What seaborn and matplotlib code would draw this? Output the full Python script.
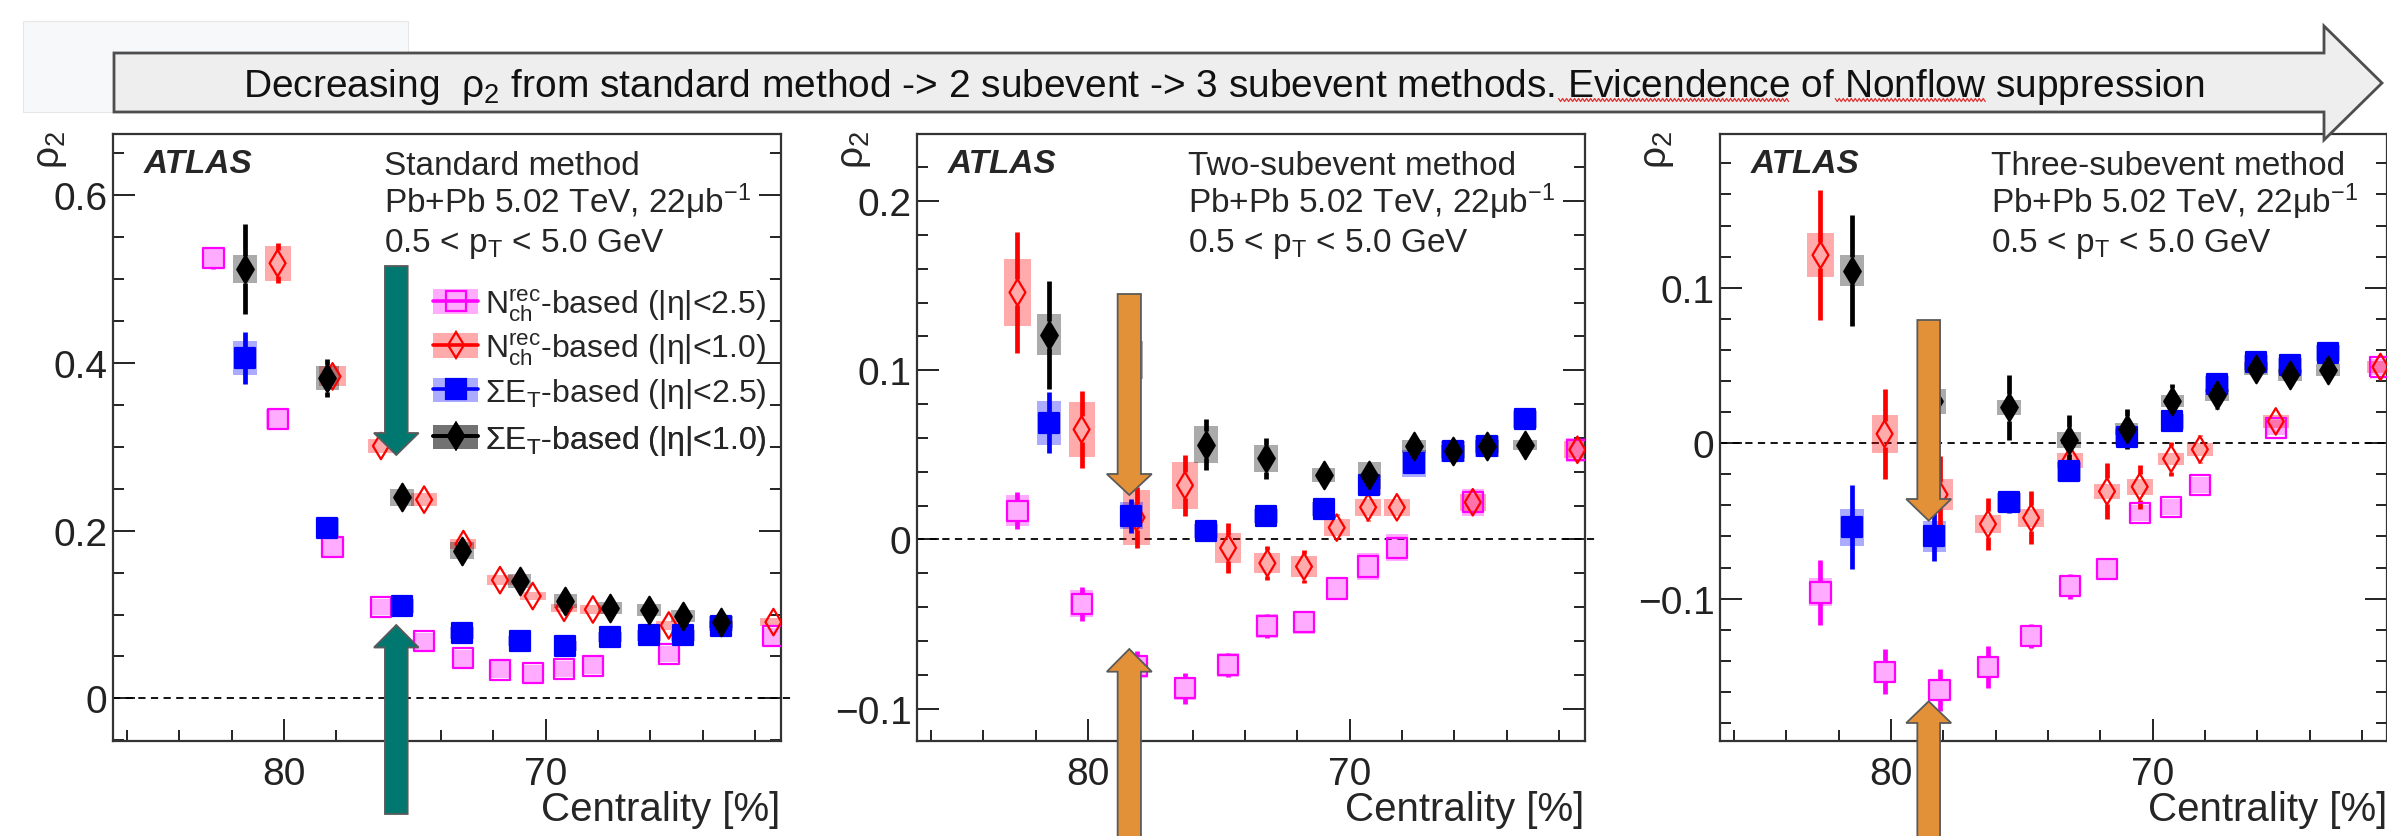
import numpy as np
import pandas as pd
import matplotlib
matplotlib.use("Agg")
import matplotlib.pyplot as plt
import seaborn as sns
from matplotlib.patches import Rectangle, Polygon
from matplotlib.lines import Line2D
from matplotlib.ticker import MultipleLocator, FuncFormatter

# ---------------- data ----------------
x_nch = [82.7, 80.25, 78.15, 76.3, 74.65, 73.15, 71.75, 70.5, 69.3, 68.2, 65.3, 61.3]
x_et = [81.5, 78.35, 75.5, 73.2, 71.0, 69.25, 67.55, 66.05, 64.75, 63.3]

# standard method
std_nch25 = [0.525, 0.333, 0.181, 0.109, 0.068, 0.048, 0.034, 0.030, 0.035, 0.039, 0.053, 0.074]
std_nch25_stat = [0.013, 0.008, 0.006, 0.005, 0.004, 0.004, 0.003, 0.003, 0.003, 0.003, 0.003, 0.003]
std_nch25_sys = [0.012, 0.012, 0.011, 0.010, 0.010, 0.010, 0.010, 0.010, 0.010, 0.010, 0.010, 0.010]
std_nch10 = [np.nan, 0.519, 0.384, 0.301, 0.237, 0.184, 0.141, 0.122, 0.108, 0.106, 0.087, 0.091]
std_nch10_stat = [np.nan, 0.024, 0.012, 0.010, 0.008, 0.007, 0.006, 0.005, 0.005, 0.005, 0.005, 0.005]
std_nch10_sys = [np.nan, 0.021, 0.012, 0.008, 0.008, 0.006, 0.006, 0.005, 0.005, 0.005, 0.005, 0.005]
std_et25 = [0.406, 0.203, 0.110, 0.078, 0.068, 0.063, 0.073, 0.075, 0.075, 0.086]
std_et25_stat = [0.031, 0.012, 0.005, 0.004, 0.004, 0.003, 0.003, 0.003, 0.003, 0.003]
std_et25_sys = [0.020, 0.012, 0.008, 0.007, 0.006, 0.006, 0.006, 0.006, 0.006, 0.006]
std_et10 = [0.512, 0.382, 0.240, 0.176, 0.140, 0.116, 0.108, 0.105, 0.098, 0.091]
std_et10_stat = [0.054, 0.023, 0.010, 0.008, 0.006, 0.005, 0.005, 0.004, 0.004, 0.004]
std_et10_sys = [0.017, 0.014, 0.010, 0.010, 0.008, 0.008, 0.007, 0.007, 0.007, 0.007]

# two-subevent method
two_nch25 = [0.017, -0.038, -0.075, -0.088, -0.074, -0.051, -0.049, -0.029, -0.016, -0.005, 0.022, 0.053]
two_nch25_stat = [0.011, 0.010, 0.009, 0.009, 0.007, 0.007, 0.005, 0.004, 0.004, 0.004, 0.004, 0.004]
two_nch25_sys = [0.009, 0.008, 0.007, 0.007, 0.007, 0.007, 0.007, 0.007, 0.008, 0.008, 0.008, 0.007]
two_nch10 = [0.146, 0.065, 0.013, 0.032, -0.005, -0.014, -0.016, 0.007, 0.019, 0.019, 0.022, 0.053]
two_nch10_stat = [0.036, 0.023, 0.018, 0.018, 0.015, 0.010, 0.010, 0.008, 0.008, 0.006, 0.006, 0.005]
two_nch10_sys = [0.020, 0.016, 0.016, 0.014, 0.009, 0.006, 0.006, 0.005, 0.005, 0.005, 0.005, 0.005]
two_et25 = [0.069, 0.014, 0.005, 0.014, 0.018, 0.032, 0.045, 0.052, 0.055, 0.071]
two_et25_stat = [0.018, 0.010, 0.006, 0.004, 0.004, 0.004, 0.004, 0.003, 0.003, 0.003]
two_et25_sys = [0.013, 0.008, 0.004, 0.004, 0.004, 0.006, 0.008, 0.006, 0.006, 0.005]
two_et10 = [0.121, 0.106, 0.056, 0.048, 0.038, 0.038, 0.055, 0.052, 0.055, 0.056]
two_et10_stat = [0.032, 0.020, 0.015, 0.012, 0.008, 0.008, 0.006, 0.005, 0.005, 0.004]
two_et10_sys = [0.012, 0.011, 0.011, 0.008, 0.004, 0.008, 0.004, 0.004, 0.004, 0.003]

# three-subevent method
thr_nch25 = [-0.096, -0.147, -0.159, -0.144, -0.124, -0.092, -0.081, -0.045, -0.041, -0.027, 0.010, 0.049]
thr_nch25_stat = [0.021, 0.0145, 0.0135, 0.0134, 0.008, 0.008, 0.006, 0.006, 0.006, 0.005, 0.005, 0.004]
thr_nch25_sys = [0.009, 0.007, 0.006, 0.006, 0.006, 0.006, 0.006, 0.005, 0.005, 0.005, 0.005, 0.005]
thr_nch10 = [0.121, 0.006, -0.033, -0.052, -0.048, -0.011, -0.031, -0.028, -0.010, -0.004, 0.014, 0.049]
thr_nch10_stat = [0.042, 0.029, 0.025, 0.017, 0.017, 0.012, 0.018, 0.014, 0.011, 0.009, 0.006, 0.005]
thr_nch10_sys = [0.014, 0.012, 0.010, 0.006, 0.006, 0.005, 0.005, 0.005, 0.004, 0.004, 0.004, 0.004]
thr_et25 = [-0.054, -0.060, -0.038, -0.018, 0.004, 0.014, 0.038, 0.052, 0.050, 0.058]
thr_et25_stat = [0.027, 0.016, 0.007, 0.005, 0.005, 0.004, 0.004, 0.003, 0.003, 0.003]
thr_et25_sys = [0.012, 0.010, 0.006, 0.006, 0.005, 0.005, 0.005, 0.005, 0.005, 0.005]
thr_et10 = [0.111, 0.027, 0.023, 0.002, 0.009, 0.027, 0.031, 0.048, 0.044, 0.047]
thr_et10_stat = [0.0355, 0.025, 0.021, 0.016, 0.013, 0.011, 0.009, 0.006, 0.005, 0.005]
thr_et10_sys = [0.010, 0.008, 0.005, 0.005, 0.004, 0.004, 0.004, 0.004, 0.004, 0.004]

panel_titles = ["Standard method", "Two-subevent method", "Three-subevent method"]
panel_ylims = [(-0.0506, 0.6726), (-0.119, 0.2394), (-0.1914, 0.1986)]
panel_minor = [0.05, 0.02, 0.02]
panel_major = [0.2, 0.1, 0.1]
series_labels = [r"$\mathrm{N}_{\mathrm{ch}}^{\mathrm{rec}}$-based (|η|<2.5)",
                 r"$\mathrm{N}_{\mathrm{ch}}^{\mathrm{rec}}$-based (|η|<1.0)",
                 r"ΣE$_{\mathrm{T}}$-based (|η|<2.5)",
                 r"ΣE$_{\mathrm{T}}$-based (|η|<1.0)"]
banner_text = "Decreasing  ρ$_2$ from standard method -> 2 subevent -> 3 subevent methods. Evicendence of Nonflow suppression"

panels = [
    [(std_nch25, std_nch25_stat, std_nch25_sys), (std_nch10, std_nch10_stat, std_nch10_sys),
     (std_et25, std_et25_stat, std_et25_sys), (std_et10, std_et10_stat, std_et10_sys)],
    [(two_nch25, two_nch25_stat, two_nch25_sys), (two_nch10, two_nch10_stat, two_nch10_sys),
     (two_et25, two_et25_stat, two_et25_sys), (two_et10, two_et10_stat, two_et10_sys)],
    [(thr_nch25, thr_nch25_stat, thr_nch25_sys), (thr_nch10, thr_nch10_stat, thr_nch10_sys),
     (thr_et25, thr_et25_stat, thr_et25_sys), (thr_et10, thr_et10_stat, thr_et10_sys)],
]
series_x = [x_nch, x_nch, x_et, x_et]

# ---------------- style ----------------
colors = ["#ff00ff", "#ff0000", "#0000ff", "#000000"]
markers = ["s", "d", "s", "d"]
open_marker = [True, True, False, False]
msizes = [14.5, 13.5, 14.5, 14.0]
half_px = [10.0, 13.0, 10.0, 13.5]
box_w = [0.85, 1.0, 0.9, 0.9]

sns.set_theme(style="ticks")
plt.rcParams["font.family"] = ["Liberation Sans", "DejaVu Sans"]
plt.rcParams["mathtext.fontset"] = "custom"
plt.rcParams["mathtext.rm"] = "Liberation Sans"
plt.rcParams["mathtext.it"] = "Liberation Sans:italic"
plt.rcParams["mathtext.bf"] = "Liberation Sans:bold"
plt.rcParams["axes.unicode_minus"] = True

W, H = 2387, 837
fig = plt.figure(figsize=(W / 100, H / 100), dpi=100)
fig.patch.set_facecolor("white")


def px(x, y):
    return (x / W, 1 - y / H)


ax_left = [113, 917, 1720]
ax_w = 667.5
ax_top, ax_bot = 135.4, 741.8
axh = ax_bot - ax_top

fmt = FuncFormatter(lambda v, p: ("%g" % round(v, 6)).replace("-", "\u2212"))

axes = []
for i in range(3):
    l = ax_left[i]
    ax = fig.add_axes([l / W, 1 - ax_bot / H, ax_w / W, axh / H])
    axes.append(ax)
    ylo, yhi = panel_ylims[i]
    per_px = (yhi - ylo) / axh
    rows = []
    for s in range(4):
        vals, stat, sysu = panels[i][s]
        for xv, v, e, sy in zip(series_x[s], vals, stat, sysu):
            rows.append(dict(series=s, x=xv, y=v, stat=e, sys=sy))
    df = pd.DataFrame(rows).dropna()
    # systematic boxes
    for s in range(4):
        d = df[df.series == s]
        ax.bar(d.x, 2 * d.sys, bottom=d.y - d.sys, width=box_w[s], color=colors[s],
               alpha=0.33, linewidth=0, zorder=2)
    # statistical error bars (not drawn inside the marker)
    for s in range(4):
        d = df[df.series == s]
        hm = half_px[s] * per_px
        up = d[d.stat > hm]
        ax.vlines(up.x, up.y + hm, up.y + up.stat, color=colors[s], lw=3.4, zorder=3)
        ax.vlines(up.x, up.y - up.stat, up.y - hm, color=colors[s], lw=3.4, zorder=3)
    for s in range(4):
        d = df[df.series == s]
        sns.scatterplot(data=d, x="x", y="y", ax=ax, marker=markers[s], s=msizes[s] ** 2,
                        color=colors[s], edgecolor=colors[s], linewidth=1.6, zorder=4 + s * 0.1,
                        legend=False)
        if open_marker[s]:
            ax.collections[-1].set_facecolor("none")

    ax.axhline(0, xmin=0, xmax=1.02, color="black", lw=1.3, ls=(0, (4, 3)), clip_on=False, zorder=1)
    ax.set_xlim(86.54, 61.03)
    ax.set_ylim(ylo, yhi)
    ax.xaxis.set_major_locator(MultipleLocator(10))
    ax.xaxis.set_minor_locator(MultipleLocator(2))
    ax.yaxis.set_major_locator(MultipleLocator(panel_major[i]))
    ax.yaxis.set_minor_locator(MultipleLocator(panel_minor[i]))
    ax.yaxis.set_major_formatter(fmt)
    ax.xaxis.set_major_formatter(FuncFormatter(lambda v, p: "%d" % v))
    ax.tick_params(which="both", direction="in", right=True, top=False, labelsize=28,
                   colors="#222222", width=1.4)
    ax.tick_params(which="major", length=16)
    ax.tick_params(which="minor", length=8)
    ax.tick_params(axis="x", which="major", pad=11)
    ax.tick_params(axis="y", which="major", pad=4)
    for sp in ax.spines.values():
        sp.set_linewidth(1.6)
        sp.set_color("#333333")
    ax.set_xlabel("")
    ax.set_ylabel("")
    ax.grid(False)
    ax.set_facecolor("white")

    ax.text(31 / ax_w, 1 - (172.8 - ax_top) / axh, "ATLAS", transform=ax.transAxes,
            fontsize=24, fontweight="bold", fontstyle="italic", ha="left", va="baseline")
    tx = 271 / ax_w
    ax.text(tx, 1 - (175.5 - ax_top) / axh, panel_titles[i], transform=ax.transAxes,
            fontsize=24, ha="left", va="baseline")
    ax.text(tx, 1 - (213.5 - ax_top) / axh, "Pb+Pb 5.02 TeV, 22μb$^{\\mathrm{-1}}$",
            transform=ax.transAxes, fontsize=24, ha="left", va="baseline")
    ax.text(tx, 1 - (252.5 - ax_top) / axh, "0.5 < p$_{\\mathrm{T}}$ < 5.0 GeV",
            transform=ax.transAxes, fontsize=24, ha="left", va="baseline")
    ax.text(-62 / ax_w, 1.007, "ρ$_2$", transform=ax.transAxes, rotation=90,
            fontsize=28, ha="center", va="top")
    ax.text(1.0, -79 / axh, "Centrality [%]", transform=ax.transAxes, fontsize=29,
            ha="right", va="baseline")

# legend in first panel: one row per series, placed at the reference row heights
row_y = [306, 350, 394, 441]
for s in range(4):
    box = Rectangle((0, 0), 1, 1, facecolor=colors[s], alpha=0.33, linewidth=0)
    ln = Line2D([], [], color=colors[s], lw=2.6, marker=markers[s], ms=msizes[s] * 0.95,
                mfc=("none" if open_marker[s] else colors[s]), mec=colors[s], mew=1.6)
    leg = axes[0].legend([(box, ln)], [series_labels[s]], loc="center left",
                         bbox_to_anchor=((433 - 113) / ax_w, 1 - (row_y[s] - ax_top) / axh),
                         frameon=False, fontsize=23, handlelength=1.42, handleheight=0.8,
                         handletextpad=0.2, borderpad=0, borderaxespad=0)
    axes[0].add_artist(leg)

# ---------------- annotations ----------------
fig.add_artist(Rectangle(px(23, 113), 385 / W, 91 / H, transform=fig.transFigure,
                         facecolor="#f7f8fa", edgecolor="#e6e6e6", lw=0.8, zorder=10))
bverts = [(114, 54), (2324, 54), (2324, 27), (2382, 84), (2324, 141), (2324, 113), (114, 113)]
fig.add_artist(Polygon([px(*v) for v in bverts], closed=True, transform=fig.transFigure,
                       facecolor="#eeeeee", edgecolor="#4d4d4d", lw=2.0, zorder=11))
bt = fig.text(243 / W, 1 - 97 / H, banner_text, fontsize=28, ha="left", va="baseline",
              color="#111111", zorder=12)

fig.canvas.draw()
renderer = fig.canvas.get_renderer()


def prefix_width(sub):
    t = fig.text(0, 0, sub, fontsize=28)
    w = t.get_window_extent(renderer).width
    t.remove()
    return w


for word in ["Evicendence", "Nonflow"]:
    idx = banner_text.index(word)
    x0 = 243 + prefix_width(banner_text[:idx])
    x1 = 243 + prefix_width(banner_text[:idx + len(word)])
    xs = np.arange(x0, x1, 2.0)
    ys = 101 + np.where((np.arange(len(xs)) % 2) == 0, -1.5, 1.5)
    fig.add_artist(Line2D(xs / W, 1 - ys / H, transform=fig.transFigure, color="#e03030",
                          lw=0.9, zorder=13))


def block_arrow(xc, y0, yb, yt, sw, hw, color):
    v = [(xc - sw / 2, y0), (xc + sw / 2, y0), (xc + sw / 2, yb), (xc + hw / 2, yb), (xc, yt),
         (xc - hw / 2, yb), (xc - sw / 2, yb)]
    fig.add_artist(Polygon([px(*p) for p in v], closed=True, transform=fig.transFigure,
                           facecolor=color, edgecolor="#5a5a5a", lw=1.3, zorder=15))


teal = "#00786f"
orange = "#e39138"
block_arrow(396.3, 267, 434, 456, 22.7, 44.7, teal)
block_arrow(396.3, 815, 648.5, 626, 22.7, 44.7, teal)
block_arrow(1129.3, 295, 475, 496, 23.3, 45, orange)
block_arrow(1129.3, 845, 672.7, 650, 23.3, 45, orange)
block_arrow(1928.7, 321, 500, 521.7, 22.7, 45, orange)
block_arrow(1928.7, 845, 724, 702.3, 22.7, 45, orange)

fig.savefig("out.png", dpi=100, facecolor="white")
